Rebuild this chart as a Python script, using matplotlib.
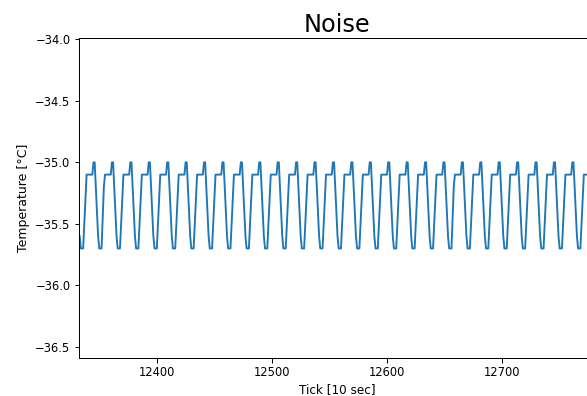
import matplotlib
matplotlib.use("Agg")
import matplotlib.pyplot as plt
import numpy as np

tick_start = 12333
temperature = [
    -35.6, -35.7,
    -35.7, -35.7, -35.5, -35.3, -35.1, -35.1, -35.1, -35.1, -35.1, -35.1, -35.0, -35.0, -35.2, -35.4, -35.6, -35.7,
    -35.7, -35.7, -35.45, -35.2, -35.1, -35.1, -35.1, -35.1, -35.1, -35.1, -35.0, -35.0, -35.2, -35.4, -35.6, -35.7,
    -35.7, -35.7, -35.5, -35.3, -35.1, -35.1, -35.1, -35.1, -35.1, -35.1, -35.0, -35.0, -35.2, -35.4, -35.6, -35.7,
    -35.7, -35.7, -35.5, -35.3, -35.1, -35.1, -35.1, -35.1, -35.1, -35.1, -35.0, -35.0, -35.2, -35.4, -35.6, -35.7,
    -35.7, -35.7, -35.5, -35.3, -35.1, -35.1, -35.1, -35.1, -35.1, -35.1, -35.0, -35.0, -35.2, -35.4, -35.6, -35.7,
    -35.7, -35.7, -35.5, -35.3, -35.1, -35.1, -35.1, -35.1, -35.1, -35.1, -35.0, -35.0, -35.2, -35.4, -35.6, -35.7,
    -35.7, -35.7, -35.5, -35.3, -35.1, -35.1, -35.1, -35.1, -35.1, -35.1, -35.0, -35.0, -35.2, -35.4, -35.6, -35.7,
    -35.7, -35.7, -35.5, -35.3, -35.1, -35.1, -35.1, -35.1, -35.1, -35.1, -35.0, -35.0, -35.2, -35.4, -35.6, -35.7,
    -35.7, -35.7, -35.5, -35.3, -35.1, -35.1, -35.1, -35.1, -35.1, -35.1, -35.0, -35.0, -35.2, -35.4, -35.6, -35.7,
    -35.7, -35.7, -35.5, -35.3, -35.1, -35.1, -35.1, -35.1, -35.1, -35.1, -35.0, -35.0, -35.2, -35.4, -35.6, -35.7,
    -35.7, -35.7, -35.5, -35.3, -35.1, -35.1, -35.1, -35.1, -35.1, -35.1, -35.0, -35.0, -35.2, -35.4, -35.6, -35.7,
    -35.7, -35.7, -35.5, -35.3, -35.1, -35.1, -35.1, -35.1, -35.1, -35.1, -35.0, -35.0, -35.2, -35.4, -35.6, -35.7,
    -35.7, -35.7, -35.5, -35.3, -35.1, -35.1, -35.1, -35.1, -35.1, -35.1, -35.0, -35.0, -35.2, -35.4, -35.6, -35.7,
    -35.7, -35.7, -35.5, -35.3, -35.1, -35.1, -35.1, -35.1, -35.1, -35.1, -35.0, -35.0, -35.2, -35.4, -35.6, -35.7,
    -35.7, -35.7, -35.5, -35.3, -35.1, -35.1, -35.1, -35.1, -35.1, -35.1, -35.0, -35.0, -35.2, -35.4, -35.6, -35.7,
    -35.7, -35.7, -35.5, -35.3, -35.1, -35.1, -35.1, -35.1, -35.1, -35.1, -35.0, -35.0, -35.2, -35.4, -35.6, -35.7,
    -35.7, -35.7, -35.5, -35.3, -35.1, -35.1, -35.1, -35.1, -35.1, -35.1, -35.0, -35.0, -35.2, -35.4, -35.6, -35.7,
    -35.7, -35.7, -35.5, -35.3, -35.1, -35.1, -35.1, -35.1, -35.1, -35.1, -35.0, -35.0, -35.2, -35.4, -35.6, -35.7,
    -35.7, -35.7, -35.5, -35.3, -35.1, -35.1, -35.1, -35.1, -35.1, -35.1, -35.0, -35.0, -35.2, -35.4, -35.6, -35.7,
    -35.7, -35.7, -35.5, -35.3, -35.1, -35.1, -35.1, -35.1, -35.1, -35.1, -35.0, -35.0, -35.2, -35.4, -35.6, -35.7,
    -35.7, -35.7, -35.45, -35.2, -35.1, -35.1, -35.1, -35.1, -35.1, -35.1, -35.0, -35.0, -35.2, -35.4, -35.6, -35.7,
    -35.7, -35.7, -35.5, -35.3, -35.1, -35.1, -35.1, -35.1, -35.1, -35.1, -35.0, -35.0, -35.2, -35.4, -35.6, -35.7,
    -35.7, -35.7, -35.5, -35.3, -35.1, -35.1, -35.1, -35.1, -35.1, -35.1, -35.0, -35.0, -35.2, -35.4, -35.6, -35.7,
    -35.7, -35.7, -35.5, -35.3, -35.1, -35.1, -35.1, -35.1, -35.1, -35.1, -35.0, -35.0, -35.2, -35.4, -35.6, -35.7,
    -35.7, -35.7, -35.5, -35.3, -35.1, -35.1, -35.1, -35.1, -35.1, -35.1, -35.0, -35.0, -35.2, -35.4, -35.6, -35.7,
    -35.7, -35.7, -35.5, -35.3, -35.1, -35.1, -35.1, -35.1, -35.1, -35.1, -35.0, -35.0, -35.2, -35.4, -35.6, -35.7,
    -35.7, -35.7, -35.5, -35.3, -35.1, -35.1, -35.1, -35.1, -35.1, -35.1, -35.0, -35.0, -35.2, -35.4, -35.6, -35.7,
    -35.7, -35.7, -35.5, -35.3, -35.1, -35.1, -35.1, -35.1, -35.1, -35.1, -35.0, -35.0, -35.2, -35.4, -35.6,
]
ticks = np.arange(tick_start, tick_start + len(temperature))

x_ticks = [12400, 12500, 12600, 12700]
y_ticks = [-34.0, -34.5, -35.0, -35.5, -36.0, -36.5]

fig = plt.figure(figsize=(587 / 72, 396 / 72), dpi=72)
ax = fig.add_axes([79 / 587, (396 - 358) / 396, (595 - 79) / 587, (358 - 38) / 396])
ax.plot(ticks, temperature, color="#1f77b4", linewidth=1.9)
ax.set_xlim(12332.4, 12780.7)
ax.set_ylim(-36.59, -33.99)
ax.set_xticks(x_ticks)
ax.set_yticks(y_ticks)
ax.tick_params(labelsize=11.5, length=4.5, width=1.0, pad=4)
for s in ax.spines.values():
    s.set_linewidth(1.0)
ax.set_title("Noise", fontsize=24, pad=6)
ax.set_xlabel("Tick [10 sec]", fontsize=12, labelpad=4)
ax.set_ylabel("Temperature [°C]", fontsize=12.5, labelpad=5)
fig.savefig("out.png", dpi=72)
